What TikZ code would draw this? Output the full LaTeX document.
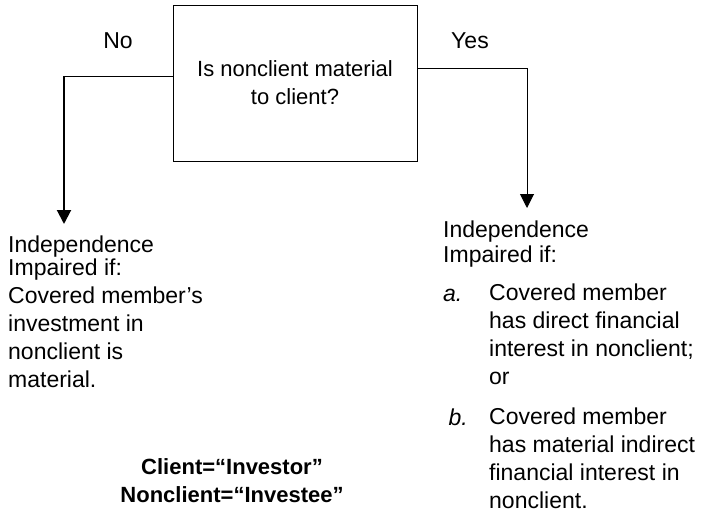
\documentclass[tikz,border=0pt]{standalone}
\usepackage{fontspec}
\setmainfont{Liberation Sans}
\usetikzlibrary{arrows.meta}
\tikzset{
  flowbox/.style={draw, line width=1pt, inner sep=0pt, align=center, font=\fontsize{22}{28}\selectfont},
  note/.style={font=\fontsize{23}{28}\selectfont, inner sep=0pt, align=left, anchor=north west},
  flow/.style={line width=1pt, -{Triangle[width=14pt,length=14pt]}},
}

\begin{document}
\begin{tikzpicture}[x=1pt,y=-1pt]
		%%%%% START %%%%%
		\useasboundingbox (0,0) rectangle (701,514);
		
		\node[flowbox, minimum width=244pt, minimum height=156pt] (question) at (295,83) {Is nonclient material\\to client?};
		
		\node[note, anchor=base] (nolabel) at (118,48) {No};
		\node[note, anchor=base] (yeslabel) at (470,48) {Yes};
		
		\coordinate (nocorner) at (64,76);
		\coordinate (nohead) at (64,224);
		\coordinate (yescorner) at (527,68);
		\coordinate (yeshead) at (527,208);
		
		\draw[line width=1pt] ([yshift=7pt]question.west) -- (nocorner);
		\draw[flow, line width=2pt] (nocorner) -- (nohead);
		\draw[line width=1pt] ([yshift=15pt]question.east) -- (yescorner);
		\draw[flow] (yescorner) -- (yeshead);
		
		% no branch
		\node[note] (noresult) at (8,236) {Independence\\[-5pt]Impaired if:\\Covered member’s\\investment in\\nonclient is\\material.};
		
		% yes branch
		\node[note] (yesresult) at (443,221) {Independence\\[-3pt]Impaired if:};
		\node[note, anchor=base west] (labela) at (443,301) {\itshape a.};
		\node[note] (itema) at (489,284) {Covered member\\has direct financial\\interest in nonclient;\\or};
		\node[note, anchor=base east] (labelb) at (468,425) {\itshape b.};
		\node[note] (itemb) at (489,408) {Covered member\\has material indirect\\financial interest in\\nonclient.};
		
		\node[note, anchor=north, align=center, font=\fontsize{22}{28}\selectfont\bfseries] (legend) at (232,458) {Client=“Investor”\\Nonclient=“Investee”};
		
		%%%%% END %%%%%
	\end{tikzpicture}
\end{document}
